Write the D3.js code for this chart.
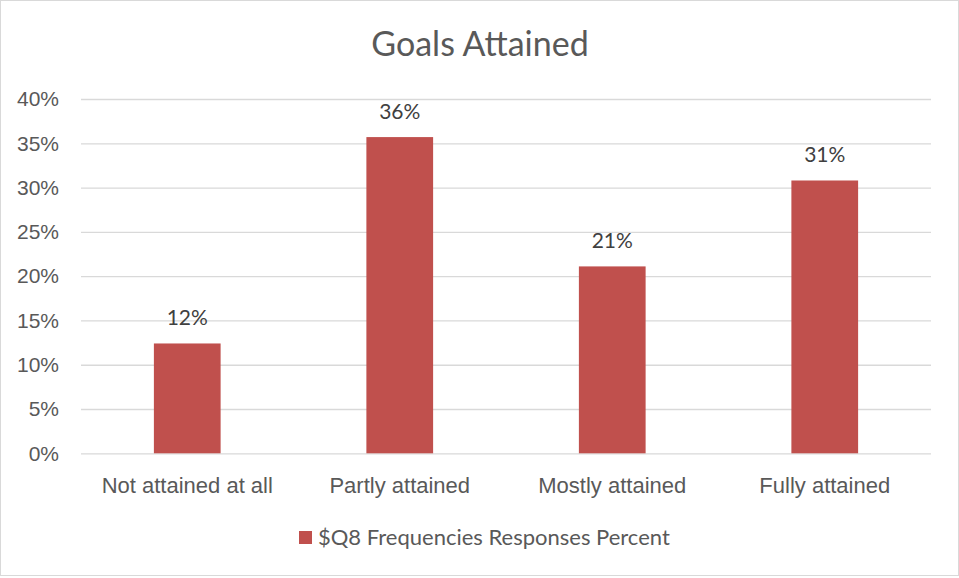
<!DOCTYPE html>
<html>
<head>
<meta charset="utf-8">
<script src="https://cdn.jsdelivr.net/npm/d3@7"></script>
<style>
  body { margin: 0; background: #fff; }
  svg { display: block; font-family: Lato, "Open Sans", sans-serif; }
</style>
</head>
<body>
<div id="container"></div>
<script>
/* CONSTANTS AND GLOBALS */
const width = 959,
  height = 578,
  margin = { top: 99, bottom: 125, left: 81, right: 28 };

/* DATA */
const categories = ["Not attained at all", "Partly attained", "Mostly attained", "Fully attained"];
const percents = [12.4, 35.7, 21.1, 30.8];
const yTicks = [0, 5, 10, 15, 20, 25, 30, 35, 40];
const seriesName = "$Q8 Frequencies Responses Percent";
const chartTitle = "Goals Attained";

const barColor = "#c0504d",
  textColor = "#595959",
  gridColor = "#d9d9d9";

const svg = d3.select("#container")
  .append("svg")
  .attr("width", width)
  .attr("height", height);

// chart border
svg.append("rect")
  .attr("x", 0.5)
  .attr("y", 0.5)
  .attr("width", width - 1)
  .attr("height", 575)
  .attr("fill", "#fff")
  .attr("stroke", gridColor);

/* SCALES */
const xScale = d3.scaleBand()
  .domain(categories)
  .range([margin.left, width - margin.right])
  .paddingInner(0.686)
  .paddingOuter(0.343);

const yScale = d3.scaleLinear()
  .domain([0, 40])
  .range([height - margin.bottom + 0.3, margin.top]);

/* AXES */
const yAxis = d3.axisLeft(yScale)
  .tickValues(yTicks)
  .tickFormat(d => d + "%")
  .tickSize(-(width - margin.left - margin.right))
  .tickPadding(22);

const yG = svg.append("g")
  .attr("transform", `translate(${margin.left},0)`)
  .call(yAxis);
yG.select(".domain").remove();
yG.selectAll(".tick line")
  .attr("stroke", gridColor)
  .attr("stroke-width", 1.3);
yG.selectAll(".tick text")
  .attr("fill", textColor)
  .style("font-size", "21px");

const xAxis = d3.axisBottom(xScale)
  .tickSize(0)
  .tickPadding(24);

const xG = svg.append("g")
  .attr("transform", `translate(0,${height - margin.bottom})`)
  .call(xAxis);
xG.select(".domain").remove();
xG.selectAll(".tick text")
  .attr("fill", textColor)
  .style("font-size", "22px");

/* BARS */
svg.selectAll("rect.bar")
  .data(percents)
  .join("rect")
  .attr("class", "bar")
  .attr("x", (d, i) => xScale(categories[i]))
  .attr("y", d => yScale(d))
  .attr("width", xScale.bandwidth())
  .attr("height", d => yScale(0) - yScale(d))
  .attr("fill", barColor);

// data labels
svg.selectAll("text.label")
  .data(percents)
  .join("text")
  .attr("class", "label")
  .attr("x", (d, i) => xScale(categories[i]) + xScale.bandwidth() / 2)
  .attr("y", d => yScale(d) - 18)
  .attr("text-anchor", "middle")
  .attr("fill", "#404040")
  .style("font-size", "21px")
  .text(d => Math.round(d) + "%");

/* TITLE */
svg.append("text")
  .attr("x", 480)
  .attr("y", 56)
  .attr("text-anchor", "middle")
  .attr("fill", textColor)
  .style("font-size", "34px")
  .text(chartTitle);

/* LEGEND */
const legend = svg.append("g")
  .attr("transform", "translate(299,531)");
legend.append("rect")
  .attr("width", 13)
  .attr("height", 13)
  .attr("fill", barColor);
legend.append("text")
  .attr("x", 19)
  .attr("y", 14)
  .attr("fill", textColor)
  .style("font-size", "22px")
  .text(seriesName);
</script>
</body>
</html>
